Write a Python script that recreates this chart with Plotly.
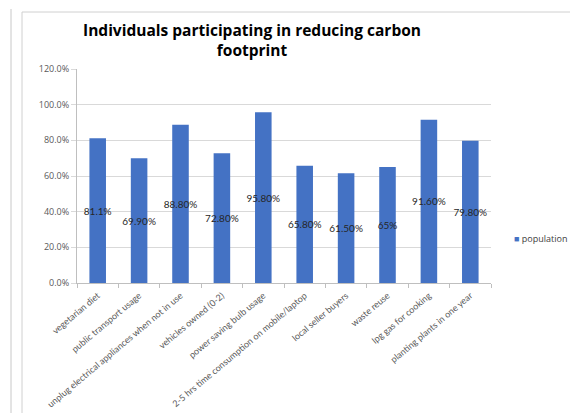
import plotly.graph_objects as go

categories = [
    "vegetarian diet",
    "public transport usage",
    "unplug electrical appliances when not in use",
    "vehicles owned (0-2)",
    "power saving bulb usage",
    "2-5 hrs time consumption on mobile/laptop",
    "local seller buyers",
    "waste reuse",
    "lpg gas for cooking",
    "planting plants in one year",
]
values = [0.811, 0.699, 0.888, 0.728, 0.958, 0.658, 0.615, 0.65, 0.916, 0.798]
value_labels = ["81.1%", "69.90%", "88.80%", "72.80%", "95.80%",
                "65.80%", "61.50%", "65%", "91.60%", "79.80%"]
series_name = "population"
title_text = "Individuals participating in reducing carbon<br>footprint"

W, H = 570, 413
L, R, T, B = 77, 491, 69, 283
BAR_COLOR = "#4472C4"


def px_x(px):
    return (px - L) / (R - L)


def px_y(py):
    return (B - py) / (B - T)


fig = go.Figure()
fig.add_trace(go.Bar(
    x=categories,
    y=values,
    name=series_name,
    marker=dict(color=BAR_COLOR, line=dict(width=0)),
    text=value_labels,
    textposition="inside",
    insidetextanchor="middle",
    constraintext="none",
    textangle=0,
    textfont=dict(family="Lato", size=10, color="#262626"),
    cliponaxis=False,
    showlegend=False,
))

fig.update_layout(
    width=W, height=H,
    margin=dict(l=L, r=W - R, t=T, b=H - B, autoexpand=False),
    paper_bgcolor="white",
    plot_bgcolor="white",
    bargap=0.6,
    showlegend=False,
    title=dict(
        text=title_text,
        x=252 / W,
        xanchor="center",
        xref="container",
        yref="container",
        y=1 - 36 / H,
        yanchor="top",
        font=dict(family="Open Sans", size=15.5, color="#000000", weight="bold"),
    ),
    annotations=[
        dict(
            xref="paper", yref="paper",
            x=px_x(512), y=px_y(238),
            xanchor="left", yanchor="middle",
            showarrow=False,
            text=f'<span style="color:{BAR_COLOR}">■</span> {series_name}',
            font=dict(family="Open Sans", size=9, color="#404040"),
        )
    ],
    xaxis=dict(
        automargin=False,
        tickangle=-40,
        tickfont=dict(family="Lato", size=9, color="#595959"),
        ticklabelstandoff=3,
        showline=True, linecolor="#bfbfbf", linewidth=1,
        ticks="outside", tickson="boundaries", ticklen=4, tickcolor="#bfbfbf",
        showgrid=False,
    ),
    yaxis=dict(
        automargin=False,
        range=[0, 1.2], dtick=0.2, tickformat=".1%",
        tickfont=dict(family="Open Sans", size=9, color="#595959"),
        showline=True, linecolor="#bfbfbf", linewidth=1,
        ticks="outside", ticklen=5, tickcolor="#d9d9d9",
        showgrid=True, gridcolor="#d9d9d9", gridwidth=1,
        zeroline=False,
    ),
    shapes=[
        dict(type="line", xref="paper", yref="paper",
             x0=px_x(22), x1=px_x(580), y0=px_y(12), y1=px_y(12),
             line=dict(color="#d0d0d0", width=1)),
        dict(type="line", xref="paper", yref="paper",
             x0=px_x(22), x1=px_x(22), y0=px_y(12), y1=px_y(420),
             line=dict(color="#d0d0d0", width=1)),
        dict(type="line", xref="paper", yref="paper",
             x0=px_x(11), x1=px_x(11), y0=px_y(9), y1=px_y(420),
             line=dict(color="#c8c8c8", width=1)),
    ],
)

fig.write_html("out.html")
